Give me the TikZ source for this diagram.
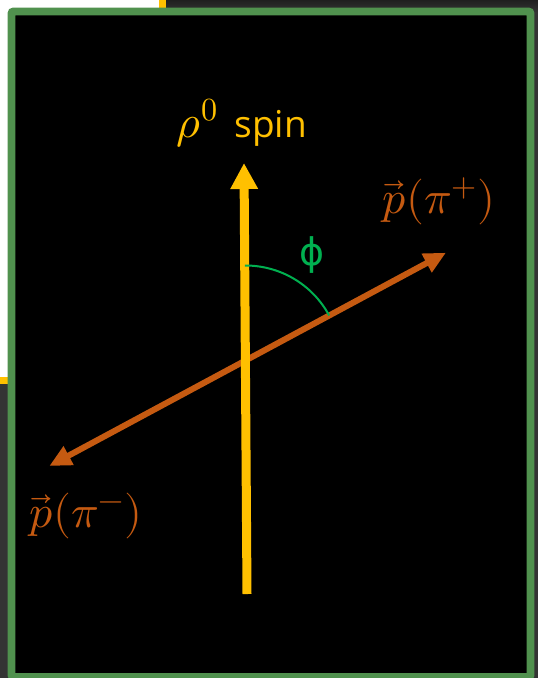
\documentclass[tikz,border=0pt]{standalone}
\usepackage{fontspec}
\usepackage{unicode-math}
\setmathfont{Latin Modern Math}
\setmainfont{Open Sans}
\newfontfamily\phifont{DejaVu Sans}
\usetikzlibrary{arrows.meta,calc}
\definecolor{framegreen}{RGB}{80,145,78}
\definecolor{arcgreen}{RGB}{0,176,80}
\definecolor{spinyellow}{RGB}{255,192,0}
\definecolor{momorange}{RGB}{197,90,17}
\definecolor{bgdark}{RGB}{52,52,52}
\begin{document}
\begin{tikzpicture}[x=1pt,y=1pt,
  spinarrow/.style={draw=spinyellow,line width=9pt,-{Triangle[width=26pt,length=26pt]}},
  momarrow/.style={draw=momorange,line width=6pt,{Triangle[width=20pt,length=22pt]}-{Triangle[width=20pt,length=22pt]}},
  anglearc/.style={draw=arcgreen,line width=2pt},
  momlabel/.style={text=momorange,inner sep=0pt,font=\fontsize{46}{52}\selectfont},
  spinlabel/.style={text=spinyellow,inner sep=0pt,font=\fontsize{37}{42}\selectfont},
  anglelabel/.style={text=arcgreen,inner sep=0pt,font=\phifont\fontsize{38}{44}\selectfont}]
\useasboundingbox (0,0) rectangle (538,-678);
% surroundings
\fill[bgdark] (0,0) rectangle (538,-678);
\fill[top color=bgdark!60!black,bottom color=bgdark] (166,0) rectangle (538,-12);
\draw[spinyellow,line width=7pt,fill=white] (-20,20) rectangle (162,-380.5);
% frame
\draw[framegreen,line width=7.8pt,fill=black,rounded corners=2pt] (11.5,-11.5) rectangle (530.5,-677);
% coordinates
\coordinate (ob) at (49.3,-466);
\coordinate (ot) at (446,-252.7);
\coordinate (ys) at (247,-594);
\coordinate (ye) at (244,-163);
\coordinate (c) at (245.5,-360.5);
% arrows
\draw[momarrow] (ob) -- (ot);
\draw[spinarrow] (ys) -- (ye);
\draw[anglearc] ($(c)+(90.4:95)$) arc[start angle=90.4,end angle=28.3,radius=95];
% labels
\node[spinlabel] (spin) at (242,-123) {{\fontsize{46}{50}\selectfont$\rho^0$}\hspace{0.45em}spin};
\node[momlabel] (pplus) at (439,-201) {$\vec{p}(\pi^+)$};
\node[momlabel] (pminus) at (86,-516) {$\vec{p}(\pi^-)$};
\node[anglelabel] (phi) at (312,-255) {ϕ};
\end{tikzpicture}
\end{document}
